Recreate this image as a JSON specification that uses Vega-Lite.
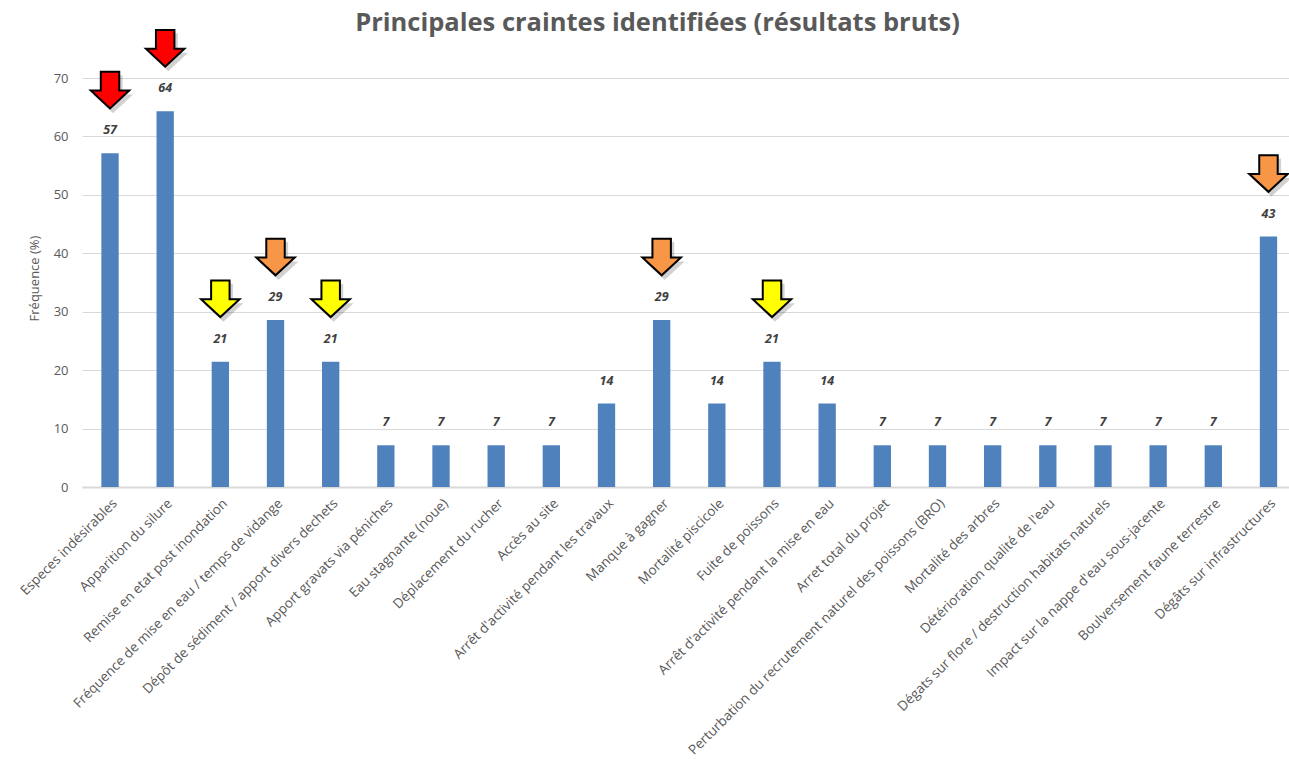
{
  "$schema": "https://vega.github.io/schema/vega-lite/v6.json",
  "autosize": {"type": "none"},
  "padding": {"left": 82, "top": 78, "right": 0, "bottom": 272},
  "width": 1207,
  "height": 409,
  "background": "#ffffff",
  "title": {
    "text": "Principales craintes identifiées (résultats bruts)",
    "font": "Open Sans",
    "fontSize": 25.5,
    "fontWeight": "bold",
    "color": "#595959",
    "anchor": "middle",
    "frame": "group",
    "baseline": "alphabetic",
    "offset": 0,
    "dy": 30,
    "dx": -28
  },
  "config": {
    "view": {"stroke": null},
    "font": "Open Sans"
  },
  "data": {
    "values": [
      {"categorie": "Especes indésirables", "valeur": 57.14, "alerte": "rouge"},
      {"categorie": "Apparition du silure", "valeur": 64.29, "alerte": "rouge"},
      {"categorie": "Remise en etat post inondation", "valeur": 21.43, "alerte": "jaune"},
      {"categorie": "Fréquence de mise en eau / temps de vidange", "valeur": 28.57, "alerte": "orange"},
      {"categorie": "Dépôt de sédiment / apport divers dechets", "valeur": 21.43, "alerte": "jaune"},
      {"categorie": "Apport gravats via péniches", "valeur": 7.14, "alerte": null},
      {"categorie": "Eau stagnante (noue)", "valeur": 7.14, "alerte": null},
      {"categorie": "Déplacement du rucher", "valeur": 7.14, "alerte": null},
      {"categorie": "Accès au site", "valeur": 7.14, "alerte": null},
      {"categorie": "Arrêt d'activité pendant les travaux", "valeur": 14.29, "alerte": null},
      {"categorie": "Manque à gagner", "valeur": 28.57, "alerte": "orange"},
      {"categorie": "Mortalité piscicole", "valeur": 14.29, "alerte": null},
      {"categorie": "Fuite de poissons", "valeur": 21.43, "alerte": "jaune"},
      {"categorie": "Arrêt d'activité pendant la mise en eau", "valeur": 14.29, "alerte": null},
      {"categorie": "Arret total du projet", "valeur": 7.14, "alerte": null},
      {"categorie": "Perturbation du recrutement naturel des poissons (BRO)", "valeur": 7.14, "alerte": null},
      {"categorie": "Mortalité des arbres", "valeur": 7.14, "alerte": null},
      {"categorie": "Détérioration qualité de l'eau", "valeur": 7.14, "alerte": null},
      {"categorie": "Dégats sur flore / destruction habitats naturels", "valeur": 7.14, "alerte": null},
      {"categorie": "Impact sur la nappe d'eau sous-jacente", "valeur": 7.14, "alerte": null},
      {"categorie": "Boulversement faune terrestre", "valeur": 7.14, "alerte": null},
      {"categorie": "Dégâts sur infrastructures", "valeur": 42.86, "alerte": "orange"}
    ]
  },
  "encoding": {
    "x": {
      "field": "categorie",
      "type": "nominal",
      "sort": null,
      "scale": {"paddingInner": 0.686, "paddingOuter": 0.283, "align": 0.62},
      "axis": {
        "title": null,
        "labelAngle": -45,
        "labelFontSize": 13.5,
        "labelColor": "#595959",
        "labelFont": "Open Sans",
        "labelLimit": 500,
        "labelPadding": 9,
        "ticks": false,
        "domainColor": "#D9D9D9",
        "domainWidth": 2,
        "grid": false
      }
    },
    "y": {
      "field": "valeur",
      "type": "quantitative",
      "scale": {"domain": [0, 70], "nice": false},
      "axis": {
        "title": "Fréquence (%)",
        "values": [0, 10, 20, 30, 40, 50, 60, 70],
        "labelFontSize": 13,
        "labelColor": "#595959",
        "labelPadding": 14,
        "ticks": false,
        "domain": false,
        "grid": true,
        "gridColor": "#D9D9D9",
        "gridWidth": 1,
        "titleFontSize": 13,
        "titleFontWeight": "normal",
        "titleColor": "#595959",
        "titleX": -48,
        "titleY": 200,
        "titleAlign": "center",
        "titleBaseline": "middle",
        "titleAngle": -90
      }
    }
  },
  "layer": [
    {
      "mark": {"type": "bar", "color": "#4F81BD"}
    },
    {
      "mark": {"type": "text", "dy": -23, "baseline": "middle", "fontSize": 12.5, "fontWeight": "bold", "fontStyle": "italic", "color": "#404040", "font": "Open Sans"},
      "encoding": {"text": {"field": "valeur", "type": "quantitative", "format": ".0f"}}
    },
    {
      "transform": [{"filter": "datum.alerte != null"}],
      "mark": {"type": "point", "filled": true, "shape": "M-0.48,-0.95 L0.48,-0.95 L0.48,0.02 L1,0.02 L0,0.95 L-1,0.02 L-0.48,0.02 Z", "size": 1600, "color": "#000000", "opacity": 0.18, "strokeWidth": 0, "xOffset": 3, "yOffset": -59},
      "encoding": {}
    },
    {
      "transform": [{"filter": "datum.alerte != null"}],
      "mark": {"type": "point", "filled": true, "shape": "M-0.48,-0.95 L0.48,-0.95 L0.48,0.02 L1,0.02 L0,0.95 L-1,0.02 L-0.48,0.02 Z", "size": 1480, "stroke": "#000000", "strokeWidth": 2, "opacity": 1, "yOffset": -63},
      "encoding": {
        "fill": {
          "field": "alerte",
          "type": "nominal",
          "scale": {"domain": ["rouge", "orange", "jaune"], "range": ["#FF0000", "#F79646", "#FFFF00"]},
          "legend": null
        }
      }
    }
  ]
}
